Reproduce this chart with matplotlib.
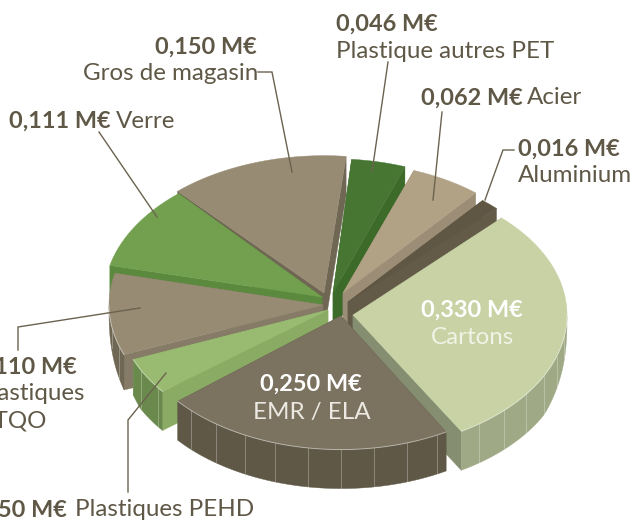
import numpy as np
import matplotlib
matplotlib.use("Agg")
import matplotlib.pyplot as plt
from matplotlib.patches import Polygon

plt.rcParams['font.family'] = ['Lato', 'DejaVu Sans']

# --- data ---
categories = ["Cartons", "EMR / ELA", "Plastiques PEHD", "Plastiques PTQO", "Verre",
              "Gros de magasin", "Plastique autres PET", "Acier", "Aluminium"]
values = [0.330, 0.250, 0.050, 0.110, 0.111, 0.150, 0.046, 0.062, 0.016]
value_labels = ["0,330 M€", "0,250 M€", "0,050 M€", "0,110 M€", "0,111 M€",
                "0,150 M€", "0,046 M€", "0,062 M€", "0,016 M€"]

# --- style: pie geometry (pixel space) ---
START_ANGLE = 46.0
SQUASH = 0.63
DEPTH = 39
angle_nudge = [0, -0.7, -2.4, -2.8, -2.5, -1.5, -0.7, -1, -1]
apex_x = [353, 341, 328, 323, 322, 324, 333, 343, 348]
apex_y = [315, 316, 310, 305, 297, 293, 293, 293, 302]
radius = [214, 212, 210, 214, 218, 218, 213, 207, 210]
top_col = ["#c8d2a5", "#7b7260", "#99bb71", "#978b73", "#72a04f", "#978b73", "#477632", "#b1a185", "#5f5744"]
rim_col = ["#9fa985", "#5f5846", "#6a8a4d", "#6f6753", "#5b8a3e", "#6f6753", "#3c6a28", "#9b8d76", "#5f5744"]
rad_col = ["#858e70", "#5f5846", "#8aab64", "#857b67", "#5b8a3e", "#6f6753", "#3c6a28", "#9b8d76", "#635b48"]
draw_order = [5, 6, 7, 8, 4, 3, 2, 0, 1]
TEXT = "#5f5846"

fig = plt.figure(figsize=(6.41, 5.22), dpi=100)
ax = fig.add_axes([0, 0, 1, 1])
ax.set_xlim(0, 641)
ax.set_ylim(522, 0)
ax.axis("off")

fractions = np.array(values) / sum(values)
sweeps = fractions * 360
ends = START_ANGLE - np.cumsum(sweeps) + np.array(angle_nudge)
starts = ends + sweeps


def pt(i, a):
    a = np.radians(a)
    return apex_x[i] + radius[i] * np.cos(a), apex_y[i] - SQUASH * radius[i] * np.sin(a)


def wall_depth(a):
    # the rim wall tapers towards the sides of the pie
    s = np.clip(-np.sin(np.radians(a)) / 0.45, 0, 1)
    return DEPTH * np.sqrt(s)


z = 2
for i in draw_order:
    a0, a1 = starts[i], ends[i]
    th = np.linspace(a1, a0, 90)
    xs, ys = pt(i, th)
    ax_, ay_ = apex_x[i], apex_y[i]
    # radial walls
    for a in (a0, a1):
        ex, ey = pt(i, a)
        d = DEPTH if np.sin(np.radians(a)) >= 0 else wall_depth(a)
        ax.add_patch(Polygon([(ax_, ay_), (ex, ey), (ex, ey + d), (ax_, ay_ + DEPTH)],
                             closed=True, fc=rad_col[i], ec=rad_col[i], lw=0.3, zorder=z))
    # outer wall, front half of the rim
    mask = np.sin(np.radians(th)) < 0
    if mask.sum() > 1:
        wx, wy = xs[mask], ys[mask]
        dd = wall_depth(th[mask])
        poly = np.column_stack([np.r_[wx, wx[::-1]], np.r_[wy, (wy + dd)[::-1]]])
        ax.add_patch(Polygon(poly, closed=True, fc=rim_col[i], ec=rim_col[i], lw=0.3, zorder=z))
        # facet joints on the rim
        for a in np.arange(np.ceil(a1 / 9) * 9, a0, 9):
            if np.sin(np.radians(a)) < 0:
                fx, fy = pt(i, a)
                ax.plot([fx, fx], [fy, fy + wall_depth(a) - 1], color="white", alpha=0.28, lw=0.7, zorder=z)
    # top face
    poly = np.column_stack([np.r_[ax_, xs], np.r_[ay_, ys]])
    ax.add_patch(Polygon(poly, closed=True, fc=top_col[i], ec=top_col[i], lw=0.3, zorder=z + 0.5))
    ax.plot(xs[mask], ys[mask], color="white", alpha=0.45, lw=0.7, zorder=z + 0.6)
    z += 1

# leader lines
leaders = [
    [(258, 72), (272, 72), (292, 172)],
    [(388, 62), (372, 172)],
    [(442, 112), (433, 200)],
    [(514, 150), (503, 150), (485, 200)],
    [(99, 132), (157, 217)],
    [(18, 350), (18, 327), (140, 308)],
    [(128, 492), (128, 420), (166, 373)],
]
for seg in leaders:
    lx, ly = zip(*seg)
    ax.plot(lx, ly, color="#6b634f", lw=1.0, zorder=50, solid_joinstyle="miter")

FS_REG = 17.4
FS_BOLD = 16.9


def label(x, y, s, ha="left", bold=False, color=TEXT):
    ax.text(x, y + 1, s, ha=ha, va="center", fontsize=FS_BOLD if bold else FS_REG, color=color,
            fontweight="bold" if bold else "normal", zorder=60, clip_on=False)


label(336, 23, value_labels[6], bold=True)
label(336, 50, categories[6])
label(257, 46, value_labels[5], ha="right", bold=True)
label(258, 72, categories[5], ha="right")
label(421, 97, value_labels[7], bold=True)
label(527, 97, categories[7])
label(518, 148, value_labels[8], bold=True)
label(518, 175, categories[8])
label(9, 120, value_labels[4], bold=True)
label(116, 120, categories[4])
label(472, 309, value_labels[0], ha="center", bold=True, color="white")
label(472, 337, categories[0], ha="center", color="#f1f3e6")
label(311, 383, value_labels[1], ha="center", bold=True, color="white")
label(312, 411, categories[1], ha="center", color="#ece9e2")
label(77, 366, value_labels[3], ha="right", bold=True)
label(85, 393, "Plastiques", ha="right")
label(47, 420, "PTQO", ha="right")
label(67, 509, value_labels[2], ha="right", bold=True)
label(75, 509, categories[2])

fig.savefig("out.png", dpi=100)
